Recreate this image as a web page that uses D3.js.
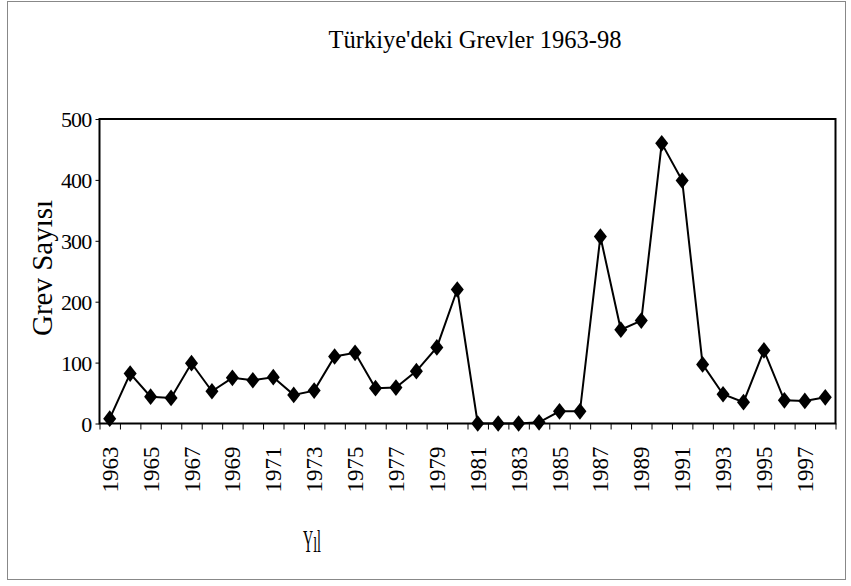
<!DOCTYPE html>
<html>
<head>
<meta charset="utf-8">
<script src="https://cdn.jsdelivr.net/npm/d3@7"></script>
<style>
  body { margin: 0; background: #fff; }
  svg { display: block; }
</style>
</head>
<body>
<div id="chart"></div>
<script>
const years = ["1963","1964","1965","1966","1967","1968","1969","1970","1971","1972",
    "1973","1974","1975","1976","1977","1978","1979","1980","1981","1982",
    "1983","1984","1985","1986","1987","1988","1989","1990","1991","1992",
    "1993","1994","1995","1996","1997","1998"];
const strikes = [8, 82, 44, 42, 99, 53, 75, 71, 76, 47,
    54, 110, 116, 58, 59, 86, 125, 220, 0, 0,
    0, 2, 20, 20, 307, 154, 169, 460, 399, 97,
    48, 35, 120, 38, 37, 43];
const yTicks = [0, 100, 200, 300, 400, 500];
const labelYears = years.filter((d, i) => i % 2 === 0);

const svgWidth = 851;
const svgHeight = 586;
const plotLeft = 99.5, plotRight = 835.5, plotTop = 119, plotBottom = 423.5;

const svg = d3.select("#chart")
    .append("svg")
    .attr("width", svgWidth)
    .attr("height", svgHeight)
    .style("font-family", "'Liberation Serif', 'Times New Roman', serif");

// outer frame
svg.append("rect")
    .attr("x", 7.5).attr("y", 1.5)
    .attr("width", 838).attr("height", 578)
    .attr("fill", "none")
    .attr("stroke", "#888")
    .attr("stroke-width", 1);

svg.append("text")
    .attr("x", 475)
    .attr("y", 48)
    .attr("text-anchor", "middle")
    .attr("font-size", "24.5px")
    .text("Türkiye'deki Grevler 1963-98");

const xScale = d3.scaleBand()
    .domain(years)
    .range([plotLeft, plotRight])
    .padding(0);

const xEdge = d3.scaleLinear()
    .domain([0, years.length])
    .range([plotLeft, plotRight]);

const yScale = d3.scaleLinear()
    .domain([0, 500])
    .range([plotBottom, plotTop]);

// tick marks at category boundaries
const xTickGroup = svg.append("g")
    .attr("transform", `translate(0, ${plotBottom})`)
    .call(d3.axisBottom(xEdge).tickValues(d3.range(0, years.length + 1)).tickSize(6).tickFormat(""));
xTickGroup.select(".domain").remove();
xTickGroup.selectAll("line").attr("stroke", "#000").attr("stroke-width", 1);

// year labels
const xLabelGroup = svg.append("g")
    .attr("transform", `translate(0, ${plotBottom})`)
    .call(d3.axisBottom(xScale).tickValues(labelYears).tickSize(0));
xLabelGroup.select(".domain").remove();
xLabelGroup.selectAll("text")
    .attr("font-family", "'Liberation Serif', serif")
    .attr("font-size", "23px")
    .attr("fill", "#000")
    .attr("transform", "rotate(-90)")
    .attr("text-anchor", "end")
    .attr("x", -23)
    .attr("y", 0)
    .attr("dy", "0.35em");

// y axis
const yAxisGroup = svg.append("g")
    .attr("transform", `translate(${plotLeft}, 0)`)
    .call(d3.axisLeft(yScale).tickValues(yTicks).tickSize(4).tickPadding(4));
yAxisGroup.select(".domain").remove();
yAxisGroup.selectAll("line").attr("stroke", "#000");
yAxisGroup.selectAll("text")
    .attr("font-family", "'Liberation Serif', serif")
    .attr("font-size", "22px")
    .attr("fill", "#000")
    .attr("letter-spacing", "-0.8px")
    .attr("dy", "0.35em");

// plot frame
svg.append("rect")
    .attr("x", plotLeft).attr("y", plotTop)
    .attr("width", plotRight - plotLeft).attr("height", plotBottom - plotTop)
    .attr("fill", "none")
    .attr("stroke", "#000")
    .attr("stroke-width", 2);

const cx = d => xScale(d) + xScale.bandwidth() / 2;

const line = d3.line()
    .x((d, i) => cx(years[i]))
    .y(d => yScale(d));

svg.append("path")
    .datum(strikes)
    .attr("d", line)
    .attr("fill", "none")
    .attr("stroke", "#000")
    .attr("stroke-width", 2);

const diamond = {
    draw(context, size) {
        const h = Math.sqrt(size) * 0.66;
        const w = h * 0.78;
        context.moveTo(0, -h);
        context.lineTo(w, 0);
        context.lineTo(0, h);
        context.lineTo(-w, 0);
        context.closePath();
    }
};

svg.append("g")
    .selectAll("path")
    .data(strikes)
    .enter()
    .append("path")
    .attr("transform", (d, i) => `translate(${cx(years[i])}, ${yScale(d)})`)
    .attr("d", d3.symbol().type(diamond).size(160))
    .attr("fill", "#000");

// axis titles
svg.append("text")
    .attr("transform", "translate(52, 268) rotate(-90)")
    .attr("text-anchor", "middle")
    .attr("font-size", "29px")
    .text("Grev Sayısı");

svg.append("text")
    .attr("x", 303)
    .attr("y", 552)
    .attr("font-size", "31px")
    .attr("textLength", 18)
    .attr("lengthAdjust", "spacingAndGlyphs")
    .text("Yıl");
</script>
</body>
</html>
